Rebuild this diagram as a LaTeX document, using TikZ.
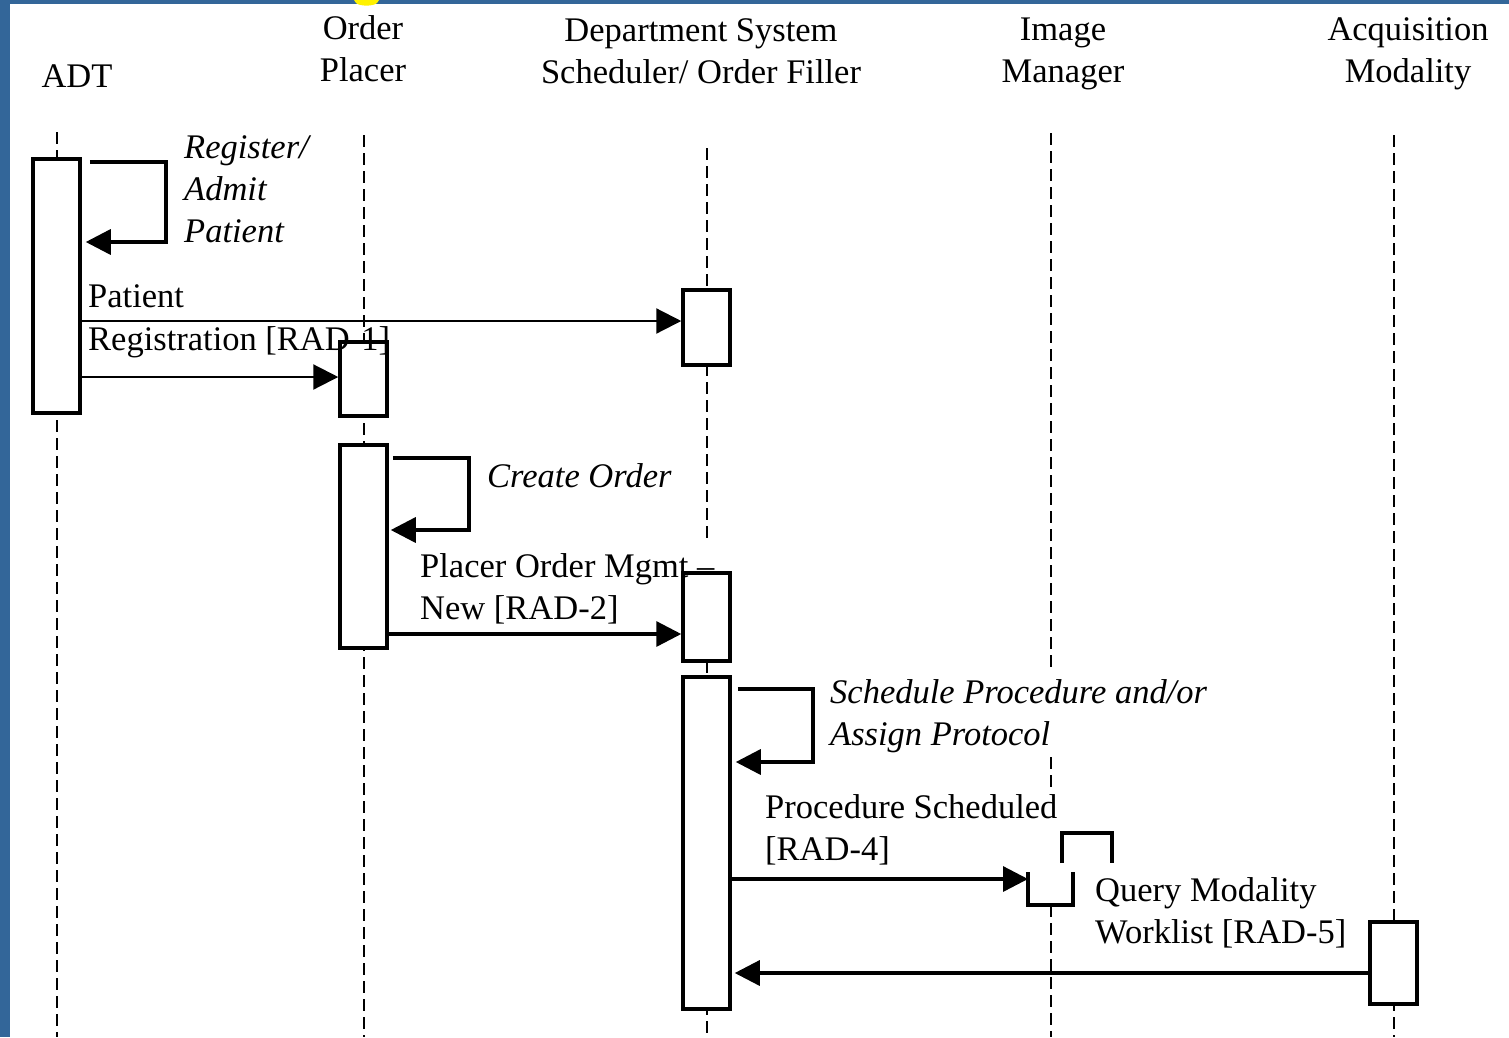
\documentclass[tikz,border=0pt]{standalone}
\usepackage{fontspec}
\setmainfont{Liberation Serif}
\usetikzlibrary{arrows.meta,calc}
\definecolor{frameblue}{HTML}{336699}
\begin{document}
\begin{tikzpicture}[x=1pt,y=-1pt,
  actbox/.style={draw,line width=3.5pt,fill=white,minimum width=47pt,inner sep=0pt},
  life/.style={line width=2.4pt,dash pattern=on 12pt off 6pt},
  thinmsg/.style={line width=2.2pt,-{Triangle[length=25pt,width=25pt]}},
  thickmsg/.style={line width=3.3pt,-{Triangle[length=25pt,width=25pt]}},
  selfmsg/.style={line width=3.5pt,-{Triangle[length=25pt,width=25pt]}},
  lbl/.style={font=\fontsize{34.5}{42}\selectfont,inner sep=0pt,anchor=base west,align=left},
  ilbl/.style={lbl,font=\fontsize{34.5}{42}\selectfont\itshape},
  hdr/.style={font=\fontsize{34.5}{42}\selectfont,inner sep=0pt,anchor=base,align=center}]
\useasboundingbox (0,0) rectangle (1509,1037);
\fill[white] (0,0) rectangle (1509,1037);
\fill[frameblue] (0,0) rectangle (10,1037);
\fill[frameblue] (0,0) rectangle (1509,4);
\fill[yellow] (354,0) -- (379,0) -- (377,3) .. controls (373,6.5) and (360,6.5) .. (356,3) -- cycle;
% headers (anchor = baseline of last line)
\node[hdr] (hadt) at (77,87) {ADT};
\node[hdr] (hop) at (363,81) {Order\\Placer};
\node[hdr] (hdss) at (701,83) {Department System\\Scheduler/ Order Filler};
\node[hdr] (him) at (1063,82) {Image\\Manager};
\node[hdr] (ham) at (1408,82) {Acquisition\\Modality};
% lifelines
\draw[life] (57,132) -- (57,1037);
\draw[life] (364,135) -- (364,1037);
\draw[life] (707,148) -- (707,540);
\draw[life] (707,661) -- (707,1037);
\draw[life] (1051,133) -- (1051,670);
\draw[life] (1051,757) -- (1051,787);
\draw[life] (1051,905) -- (1051,1037);
\draw[life] (1394,135) -- (1394,1037);
% activation boxes
\node[actbox,minimum height=254pt] (adt) at (56.5,286) {};
\node[actbox,minimum height=74pt] (op1) at (363.5,379) {};
\node[actbox,minimum height=75pt] (dss1) at (706.5,327.5) {};
\node[actbox,minimum height=203pt] (op2) at (363.5,546.5) {};
\node[actbox,minimum height=88pt] (dss2) at (706.5,617) {};
\node[actbox,minimum height=332pt] (dss3) at (706.5,843) {};
\node[actbox,minimum height=82pt] (am) at (1393.5,963) {};
\coordinate (imin) at (1028,879);
\draw[line width=3.5pt,fill=white] (1028,872) -- (1028,905) -- (1073,905) -- (1073,872);
\draw[line width=3.5pt] (1062,863) -- (1062,833) -- (1112,833) -- (1112,863);
% labels
\node[ilbl] (l1) at (184,242) {Register/\\Admit\\Patient};
\node[ilbl] (l2) at (487,487) {Create Order};
\node[lbl] (l3) at (420,619) {Placer Order Mgmt –\\New [RAD-2]};
\node[ilbl] (l4) at (830,745) {Schedule Procedure and/or\\Assign Protocol};
\node[lbl] (l5) at (765,860) {Procedure Scheduled\\{[RAD-4]}};
\node[lbl] (l6) at (1095,943) {Query Modality\\Worklist [RAD-5]};
% self messages
\draw[selfmsg] ($(adt.east |- 0,162)+(8,0)$) -| (166,242) -- ($(adt.east |- 0,242)+(4,0)$);
\draw[selfmsg] ($(op2.east |- 0,458)+(4,0)$) -| (469,530) -- ($(op2.east |- 0,530)+(2,0)$);
\draw[selfmsg] ($(dss3.east |- 0,689)+(6,0)$) -| (813,762) -- ($(dss3.east |- 0,762)+(4,0)$);
% messages
\draw[thinmsg] (adt.east |- 0,321) -- (dss1.west |- 0,321);
\draw[thinmsg] (adt.east |- 0,377) -- (op1.west |- 0,377);
\draw[thickmsg] (op2.east |- 0,634) -- (dss2.west |- 0,634);
\draw[thickmsg] (dss3.east |- 0,879) -- (imin);
\draw[thickmsg] (am.west |- 0,973) -- ($(dss3.east |- 0,973)+(3,0)$);
\node[lbl] (l7) at (88,307) {Patient};
\node[lbl] (l8) at (88,350) {Registration [RAD-1]};
\end{tikzpicture}
\end{document}
